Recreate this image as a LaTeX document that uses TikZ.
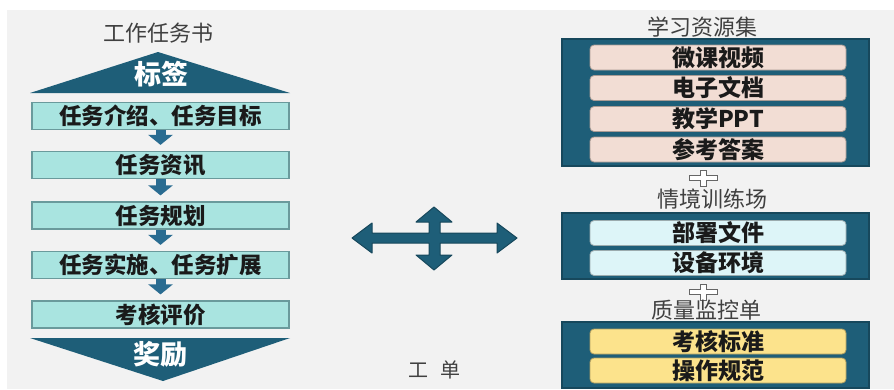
\documentclass[tikz,border=0pt]{standalone}
\usepackage{fontspec}
\newfontfamily\cjk{Noto Sans CJK SC}
\usetikzlibrary{arrows.meta}
\definecolor{bgc}{HTML}{F2F2F2}
\definecolor{tealD}{HTML}{1E5E78}
\definecolor{tealE}{HTML}{17485C}
\definecolor{tealA}{HTML}{2A6C91}
\definecolor{boxc}{HTML}{A9E4E0}
\definecolor{boxd}{HTML}{6A9A9C}
\definecolor{peach}{HTML}{F2DDD4}
\definecolor{cyanl}{HTML}{DDF5F8}
\definecolor{yel}{HTML}{FCE38C}
\definecolor{txt}{HTML}{1A1A1A}
\definecolor{ttl}{HTML}{404040}
\begin{document}
\begin{tikzpicture}[x=1pt,y=-1pt,
  taskbox/.style={draw=boxd, line width=1.2pt, fill=boxc, minimum width=257pt, minimum height=27pt,
    inner sep=0pt, text=txt, font=\cjk\bfseries\fontsize{22.5}{22.5}\selectfont},
  flowarrow/.style={draw=tealA, line width=10pt, shorten >=6pt,
    -{Triangle[width=24pt,length=10pt]}},
  bigtext/.style={text=white, inner sep=0pt, font=\cjk\bfseries\fontsize{27}{27}\selectfont},
  titletext/.style={text=ttl, inner sep=0pt, font=\cjk\fontsize{22}{22}\selectfont},
  frame/.style={draw=tealE, line width=1.2pt, fill=tealD},
  resbox/.style={draw=#1!70!black, line width=0.8pt, fill=#1, rounded corners=4pt,
    minimum width=256pt, minimum height=25pt, inner sep=0pt, text=txt,
    font=\cjk\bfseries\fontsize{23}{23}\selectfont},
  plussign/.style={draw=gray!80!black, line width=1pt, fill=white}
]
\useasboundingbox (0,0) rectangle (894,389);
\fill[bgc] (7,10) rectangle (894,389);

% ---------- left column ----------
\node[titletext] (t1) at (158,33) {工作任务书};
\fill[tealD] (158,52) -- (290,93) -- (30,93) -- cycle;
\node[bigtext] (tag) at (161,74) {标签};

\node[taskbox] (b1) at (160.5,116) {任务介绍、任务目标};
\node[taskbox] (b2) at (160.5,165) {任务资讯};
\node[taskbox] (b3) at (160.5,215.5) {任务规划};
\node[taskbox] (b4) at (160.5,265) {任务实施、任务扩展};
\node[taskbox] (b5) at (160.5,314.5) {考核评价};

\draw[flowarrow] (b1.south) -- (b2.north);
\draw[flowarrow] (b2.south) -- (b3.north);
\draw[flowarrow] (b3.south) -- (b4.north);
\draw[flowarrow] (b4.south) -- (b5.north);

\fill[tealD] (30,338) -- (290,338) -- (163,381) -- cycle;
\node[bigtext] (reward) at (160,354) {奖励};

% ---------- middle ----------
\filldraw[fill=tealD, draw=tealE, line width=1pt, line join=round]
  (352,238) -- (372,223) -- (372,233) -- (429,233) -- (429,222) -- (416,222)
  -- (434,207) -- (452,222) -- (440,222) -- (440,233) -- (497,233) -- (497,223)
  -- (517,238) -- (497,253) -- (497,243) -- (440,243) -- (440,255) -- (452,255)
  -- (434,270) -- (416,255) -- (429,255) -- (429,243) -- (372,243) -- (372,253) -- cycle;
\node[titletext, font=\cjk\fontsize{20}{20}\selectfont] (gd) at (434,370) {工\hspace{12pt}单};

% ---------- right column ----------
\node[titletext] (t2) at (702,27) {学习资源集};
\draw[frame] (562,39) rectangle (869,166);
\node[resbox=peach] (r1) at (718,57.5) {微课视频};
\node[resbox=peach] (r2) at (718,88) {电子文档};
\node[resbox=peach] (r3) at (718,119) {教学PPT};
\node[resbox=peach] (r4) at (718,149.5) {参考答案};

\filldraw[plussign] (689,175) -- (700,175) -- (700,170) -- (706,170) -- (706,175) -- (717,175)
  -- (717,180) -- (706,180) -- (706,186) -- (700,186) -- (700,180) -- (689,180) -- cycle;
\node[titletext] (t3) at (712,199) {情境训练场};
\draw[frame] (562,213) rectangle (869,279);
\node[resbox=cyanl] (s1) at (718,233) {部署文件};
\node[resbox=cyanl] (s2) at (718,263) {设备环境};

\filldraw[plussign] (689,289) -- (700,289) -- (700,284) -- (706,284) -- (706,289) -- (717,289)
  -- (717,294) -- (706,294) -- (706,300) -- (700,300) -- (700,294) -- (689,294) -- cycle;
\node[titletext] (t4) at (706,310) {质量监控单};
\draw[frame] (562,322) rectangle (869,388);
\node[resbox=yel] (q1) at (718,341.5) {考核标准};
\node[resbox=yel] (q2) at (718,370.5) {操作规范};
\end{tikzpicture}
\end{document}
